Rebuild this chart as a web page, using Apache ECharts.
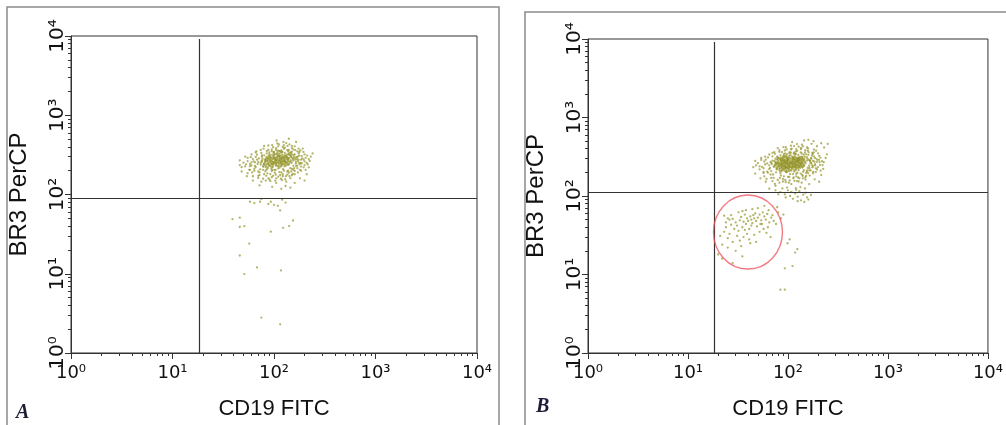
<!DOCTYPE html>
<html>
<head>
<meta charset="utf-8">
<script src="https://cdn.jsdelivr.net/npm/echarts@6/dist/echarts.min.js"></script>
<style>html,body{margin:0;padding:0;background:#fff}#c{width:1006px;height:425px}</style>
</head>
<body>
<div id="c"></div>
<script>
// ---------- axis tick labels (decade exponents) ----------
const decadeExponents = [0, 1, 2, 3, 4];
const supDigits = ['\u2070', '\u00B9', '\u00B2', '\u00B3', '\u2074'];
const xTitle = 'CD19 FITC';
const yTitle = 'BR3 PerCP';
const panelLabels = ['A', 'B'];

// ---------- quadrant gates ----------
const quadA = { x: 18.2, y: 90.6 };
const quadB = { x: 18.2, y: 112 };
const gateCenterB = [[39.8, 34.7]];

// ---------- panel A events [CD19, BR3] ----------
const eventsA_core = [[92,262],[105,248],[118,281],[84,231],[131,295],[99,305],[110,214],[76,270],[143,257],[88,289],[121,236],[97,221],[134,318],[102,276],[115,259],[80,247],[126,270],[94,240],[108,298],[139,284],[86,212],[112,327],[100,257],[123,209],[91,283],[146,306],[78,226],[117,244],[104,231],[129,262],[96,318],[83,268],[136,239],[109,284],[120,300],[89,251],[153,280],[101,204],[114,271],[74,252],[127,226],[93,296],[106,265],[140,331],[85,286],[119,253],[98,237],[132,248],[111,310],[87,219],[125,290],[103,281],[95,260],[148,262],[81,238],[116,230],[107,322],[90,274],[137,271],[122,266],[99,291],[113,218],[84,297],[128,303],[105,238],[141,244],[92,227],[118,337],[77,284],[133,285],[102,253],[96,276],[124,244],[110,262],[88,305],[150,292],[115,289],[82,258],[131,232],[97,248],[107,276],[121,319],[94,213],[138,262],[86,267],[112,243],[100,330],[126,282],[79,241],[145,272],[108,230],[91,299],[119,274],[103,265],[134,300],[89,236],[116,311],[98,284],[128,256],[105,294],[83,222],[123,258],[95,242],[140,289],[111,229],[93,270],[130,275],[101,317],[87,281],[117,262],[76,261],[135,252],[109,308],[120,242],[97,259],[143,316],[85,245],[114,283],[104,205],[127,311],[92,253],[155,268],[81,275],[118,226],[99,300],[136,290],[106,250],[90,231],[124,297],[112,270],[128,239],[94,288],[139,237],[102,287],[116,254],[87,262],[131,258],[108,340],[122,283],[96,227],[149,250],[83,279],[113,299],[100,245],[126,266],[91,313],[137,280],[110,252],[119,292],[105,271]];
const eventsA_mid = [[62,150],[70,172],[78,205],[86,185],[95,165],[104,178],[113,192],[122,180],[131,170],[140,188],[150,175],[160,198],[170,215],[180,240],[172,265],[163,290],[155,315],[145,340],[135,362],[125,378],[115,350],[105,365],[95,352],[85,330],[76,300],[68,275],[60,255],[66,222],[74,238],[82,262],[90,320],[99,342],[108,358],[118,345],[128,335],[138,350],[148,320],[158,300],[168,280],[176,250],[165,228],[155,205],[145,215],[135,195],[125,200],[115,175],[105,160],[92,180],[84,172],[72,190],[64,200],[58,228],[70,258],[80,312],[88,365],[98,395],[110,405],[122,398],[136,410],[150,385],[162,362],[175,330],[188,305],[196,275],[188,248],[196,220],[180,205],[66,340],[74,365],[60,320],[55,290],[53,240],[63,262],[71,285],[79,225],[87,244],[96,205],[104,325],[113,310],[121,345],[130,310],[139,320],[147,298],[156,285],[164,245],[172,300],[103,150],[90,155],[117,158],[129,155],[142,170],[153,182],[83,150],[75,145],[108,440],[124,460],[142,430],[96,420],[80,410],[160,405],[182,360],[205,290],[212,310],[192,380],[58,205],[54,170],[48,195],[46,235],[210,250],[220,280],[200,235],[185,275],[178,345]];
const eventsA_outer = [[58,243],[64,212],[52,226],[70,195],[62,280],[55,264],[68,318],[72,176],[48,221],[61,190],[66,298],[57,205],[75,335],[60,233],[50,252],[73,208],[65,255],[59,296],[69,243],[80,180],[85,355],[95,372],[105,385],[118,360],[128,390],[140,365],[150,348],[160,320],[168,298],[175,275],[182,250],[170,232],[158,215],[165,258],[178,310],[190,286],[200,262],[215,240],[230,300],[195,345],[185,225],[205,205],[172,190],[160,180],[148,195],[135,178],[122,170],[110,168],[98,172],[88,160],[78,158],[70,162],[92,148],[105,140],[120,152],[132,145],[145,160],[62,170],[82,196],[155,230],[162,275],[148,335],[112,355],[100,345],[90,340],[76,312],[65,230],[55,186],[88,415],[112,430],[132,445],[150,410],[175,380],[200,320],[225,265],[185,200],[210,180],[240,330],[106,480],[140,505],[165,460],[125,420],[79,380],[67,350],[52,300],[46,270],[72,130],[96,125],[130,128],[160,140],[118,118],[145,122],[180,160],[200,150],[220,220],[170,350],[155,370],[95,198],[102,188],[118,190],[138,200],[150,210],[84,204]];
const eventsA_low = [[58,81],[73,81],[93,81],[109,72],[115,63],[39,49],[46,51],[46,39],[51,40],[93,34],[123,38],[141,40],[154,47],[57,24],[46,17],[68,12],[51,9.9],[117,11],[75,2.8],[115,2.3],[64,78],[88,76],[100,74],[130,79],[120,86],[75,88]];

// ---------- panel B events [CD19, BR3] ----------
const eventsB_core = [[95,245],[108,262],[82,231],[121,279],[90,298],[114,218],[76,256],[131,241],[99,284],[87,213],[126,307],[103,227],[93,270],[117,250],[80,278],[139,266],[97,203],[110,318],[85,248],[124,232],[101,292],[72,238],[134,287],[92,221],[112,273],[88,309],[119,263],[105,240],[78,267],[143,252],[96,326],[128,214],[84,286],[107,257],[116,296],[91,236],[136,276],[100,210],[122,246],[83,223],[111,283],[94,261],[130,301],[74,249],[104,272],[89,242],[118,229],[98,313],[146,281],[86,258],[125,264],[102,219],[79,295],[113,237],[93,284],[137,243],[106,290],[81,244],[120,310],[97,233],[129,257],[90,276],[115,205],[77,228],[109,266],[141,297],[87,232],[123,285],[100,250],[84,303],[133,229],[95,266],[112,242],[75,271],[119,293],[103,206],[127,270],[89,259],[106,331],[150,262],[92,240],[117,278],[82,216],[135,255],[99,300],[110,228],[86,290],[126,244],[97,274],[121,217],[80,252],[140,309],[103,263],[90,225],[114,301],[73,280],[131,268],[94,252],[108,211],[85,269],[124,296],[101,238],[117,322],[88,282],[138,236],[96,214],[111,257],[79,237],[129,282],[98,291],[91,263],[145,245],[105,304],[83,208],[120,239],[93,317],[132,259],[76,244],[113,269],[100,226],[125,251],[87,300],[107,235],[142,284],[96,258],[118,212],[81,265],[136,302],[102,281],[89,218],[115,288],[94,234],[127,227],[78,290],[110,247],[98,271],[123,273],[86,237],[148,270],[104,256],[91,328],[134,248],[84,255],[116,236],[101,305],[129,299],[75,262],[97,229],[112,292],[88,268],[139,259],[106,214],[93,289],[120,256],[82,242],[130,233],[99,262],[114,311],[90,249],[125,286],[77,218],[108,276],[95,237],[137,292],[103,248],[85,280],[118,270],[100,294],[128,240],[92,210],[111,234],[80,304],[144,240],[97,282],[122,225],[87,253],[133,315],[105,268],[94,226],[116,259],[83,296],[126,278],[101,243],[89,287],[140,274],[109,223],[96,306],[119,247],[78,259],[131,290],[104,233],[92,277],[113,254],[86,227],[123,300],[99,256],[135,265]];
const eventsB_mid = [[60,152],[68,170],[76,200],[85,182],[94,160],[103,175],[112,190],[121,178],[130,168],[139,186],[149,172],[159,196],[169,212],[179,238],[171,262],[162,288],[154,312],[144,338],[134,360],[124,376],[114,348],[104,362],[94,350],[84,328],[75,298],[67,272],[59,252],[65,220],[73,236],[81,260],[89,318],[98,340],[107,356],[117,343],[127,333],[137,348],[147,318],[157,298],[167,278],[175,248],[164,226],[154,203],[144,213],[134,193],[124,198],[114,173],[104,158],[91,178],[83,170],[71,188],[63,198],[57,226],[69,256],[79,310],[87,362],[97,392],[109,402],[121,396],[135,408],[149,383],[161,360],[174,328],[187,303],[195,273],[187,246],[195,218],[179,203],[65,338],[73,362],[59,318],[54,288],[52,238],[62,260],[70,283],[78,223],[86,242],[95,203],[103,323],[112,308],[120,343],[129,308],[138,318],[146,296],[155,283],[163,243],[171,298],[102,148],[89,153],[116,156],[128,153],[141,168],[152,180],[82,148],[74,143],[107,438],[123,458],[141,428],[95,418],[79,408],[159,403],[181,358],[204,288],[211,308],[191,378],[57,203],[53,168],[47,193],[45,233],[209,248],[219,278],[199,233],[184,273],[177,343],[118,235],[98,228],[128,285],[110,300],[92,310],[140,230]];
const eventsB_outer = [[55,235],[62,205],[50,262],[67,188],[60,290],[52,218],[70,320],[65,246],[58,275],[48,245],[66,228],[72,170],[57,196],[63,310],[68,265],[74,345],[82,365],[93,380],[107,392],[120,370],[135,395],[148,360],[160,335],[170,305],[178,280],[187,255],[175,232],[163,212],[168,262],[182,318],[195,292],[207,270],[222,248],[238,305],[200,350],[190,225],[212,210],[178,195],[165,182],[152,196],[140,180],[126,172],[113,168],[100,175],[89,165],[79,160],[70,155],[95,150],[108,142],[123,155],[137,148],[150,162],[61,165],[84,195],[158,228],[166,282],[152,340],[116,358],[103,350],[91,342],[78,316],[68,208],[58,178],[90,420],[115,432],[138,450],[155,415],[182,390],[205,325],[228,270],[190,202],[215,185],[245,340],[110,485],[145,510],[172,462],[128,425],[82,385],[70,355],[54,305],[47,280],[75,135],[98,128],[133,130],[163,142],[121,120],[148,125],[185,163],[205,152],[225,222],[175,355],[158,375],[97,200],[105,190],[121,192],[142,203],[155,212],[86,206],[250,460],[215,470],[195,430],[230,415],[180,500],[160,520]];
const eventsB_line = [[75,118],[84,112],[93,105],[105,100],[118,108],[130,115],[142,104],[155,96],[100,118],[88,125],[112,92],[125,98],[80,105],[135,88],[150,110],[170,103],[160,90],[108,113],[95,96],[120,126],[65,124],[146,84],[125,86]];
const eventsB_gate = [[21,31],[23,35],[25,29],[24,40],[27,43],[26,33],[29,38],[30,46],[28,51],[31,42],[33,49],[32,36],[34,54],[36,47],[35,40],[37,58],[39,52],[38,44],[40,48],[42,55],[41,38],[43,50],[45,57],[44,45],[46,52],[48,48],[47,60],[50,53],[52,58],[49,41],[54,49],[56,62],[55,44],[58,55],[60,50],[62,59],[65,46],[68,53],[63,40],[70,57],[39,33],[36,30],[33,27],[28,26],[22,24],[25,22],[30,20],[34,23],[41,28],[46,32],[52,35],[57,38],[44,68],[38,66],[32,62],[27,57],[50,70],[58,75],[64,66],[72,48],[76,44],[80,62],[85,52],[90,58],[78,72],[24,46],[20,18],[22,16],[28,14],[35,17],[42,25],[48,26],[31,31],[37,37],[43,42],[53,44],[61,34],[67,30],[26,50],[35,64],[23,56],[25,52]];
const eventsB_low = [[99,25],[124,21],[93,12],[111,12.8],[84,6.4],[93,6.4],[104,28],[118,19]];

// ---------- build ----------
const decadeValues = decadeExponents.map(e => Math.pow(10, e));
const minorValues = [];
for (let i = 0; i < decadeValues.length - 1; i++) {
  for (let m = 2; m <= 9; m++) minorValues.push(m * decadeValues[i]);
}
const AX = '#333';
const DOT = 'rgba(145,145,35,0.85)';
const FONT = 'Liberation Sans';

function expOf(v) { return Math.round(Math.log10(v)); }
function fmtPlain(v) { return '10' + supDigits[expOf(v)]; }

function mainX(gi) {
  return {
    type: 'log', logBase: 10, gridIndex: gi, min: 1, max: 10000, position: 'bottom',
    name: xTitle, nameLocation: 'middle', nameGap: 45,
    nameTextStyle: { fontFamily: FONT, fontSize: 22, color: '#111' },
    axisLine: { lineStyle: { color: AX, width: 1 } },
    axisTick: { customValues: decadeValues, length: 6, lineStyle: { color: AX } },
    splitLine: { show: false },
    axisLabel: {
      customValues: decadeValues, margin: 11, formatter: fmtPlain, color: '#111',
      fontFamily: 'DejaVu Sans', fontSize: 18
    }
  };
}
function minorX(gi) {
  return {
    type: 'log', logBase: 10, gridIndex: gi, min: 1, max: 10000, position: 'bottom', offset: 0,
    axisLine: { show: false }, splitLine: { show: false },
    axisTick: { customValues: minorValues, length: 3, lineStyle: { color: AX } },
    axisLabel: { show: false }
  };
}
function mainY(gi) {
  return {
    type: 'log', logBase: 10, gridIndex: gi, min: 1, max: 10000, position: 'left',
    name: yTitle, nameLocation: 'middle', nameGap: 40, nameRotate: 90,
    nameTextStyle: { fontFamily: FONT, fontSize: 24, color: '#111' },
    axisLine: { lineStyle: { color: AX, width: 1 } },
    axisTick: { customValues: decadeValues, length: 6, lineStyle: { color: AX } },
    splitLine: { show: false },
    axisLabel: {
      customValues: decadeValues, margin: 3, rotate: 90, formatter: fmtPlain, color: '#111',
      fontFamily: 'DejaVu Sans', fontSize: 20
    }
  };
}
function minorY(gi) {
  return {
    type: 'log', logBase: 10, gridIndex: gi, min: 1, max: 10000, position: 'left', offset: 0,
    axisLine: { show: false }, splitLine: { show: false },
    axisTick: { customValues: minorValues, length: 3, lineStyle: { color: AX } },
    axisLabel: { show: false }
  };
}
function quadLines(q) {
  return {
    silent: true, symbol: 'none', label: { show: false },
    lineStyle: { color: '#333', width: 1.2, type: 'solid' },
    data: [
      [{ coord: [q.x, 1] }, { coord: [q.x, 9150] }],
      [{ coord: [1, q.y] }, { coord: [10000, q.y] }]
    ]
  };
}
function dots(xi, yi, data, extra) {
  return Object.assign({
    type: 'scatter', xAxisIndex: xi, yAxisIndex: yi, data: data,
    symbol: 'circle', symbolSize: 2.3, silent: true, animation: false,
    itemStyle: { color: DOT }
  }, extra || {});
}

const chart = echarts.init(document.getElementById('c'), null, { renderer: 'canvas' });
chart.setOption({
  backgroundColor: '#fff',
  animation: false,
  grid: [
    { left: 71, top: 36, width: 406, height: 325, show: true, borderColor: AX, borderWidth: 1, backgroundColor: 'transparent' },
    { left: 588, top: 39, width: 405, height: 322, show: true, borderColor: AX, borderWidth: 1, backgroundColor: 'transparent' }
  ],
  xAxis: [mainX(0), minorX(0), mainX(1), minorX(1)],
  yAxis: [mainY(0), minorY(0), mainY(1), minorY(1)],
  graphic: [
    { type: 'rect', silent: true, shape: { x: 7, y: 7, width: 492, height: 440 }, style: { fill: 'none', stroke: '#8a8a8a', lineWidth: 1.5 } },
    { type: 'rect', silent: true, shape: { x: 525, y: 12, width: 500, height: 440 }, style: { fill: 'none', stroke: '#8a8a8a', lineWidth: 1.5 } },
    { type: 'text', silent: true, left: 16, top: 403, style: { text: panelLabels[0], font: 'italic bold 20px "Liberation Serif"', fill: '#1c1c3a' } },
    { type: 'text', silent: true, left: 536, top: 397, style: { text: panelLabels[1], font: 'italic bold 20px "Liberation Serif"', fill: '#1c1c3a' } }
  ],
  series: [
    dots(0, 0, eventsA_core, { markLine: quadLines(quadA) }),
    dots(0, 0, eventsA_mid),
    dots(0, 0, eventsA_outer),
    dots(0, 0, eventsA_low),
    dots(2, 2, eventsB_core, { markLine: quadLines(quadB) }),
    dots(2, 2, eventsB_mid),
    dots(2, 2, eventsB_outer),
    dots(2, 2, eventsB_line),
    dots(2, 2, eventsB_gate),
    dots(2, 2, eventsB_low),
    {
      type: 'scatter', xAxisIndex: 2, yAxisIndex: 2, data: gateCenterB, silent: true,
      symbol: 'circle', symbolSize: [69, 74], z: 5,
      itemStyle: { color: 'rgba(0,0,0,0)', borderColor: '#f05560', borderWidth: 1.4 }
    }
  ]
});
</script>
</body>
</html>
